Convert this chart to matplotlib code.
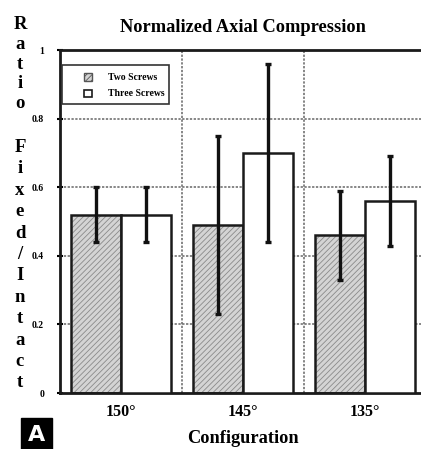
import numpy as np
import matplotlib
matplotlib.use('Agg')
import matplotlib.pyplot as plt
from matplotlib.patches import Rectangle

# data
configs = ['150°', '145°', '135°']
two_screws = [0.52, 0.49, 0.46]
two_err = [0.08, 0.26, 0.13]
three_screws = [0.52, 0.70, 0.56]
three_err = [0.08, 0.26, 0.13]
series_names = ['Two Screws', 'Three Screws']
y_ticks = [0, 0.2, 0.4, 0.6, 0.8, 1]
y_tick_labels = ['0', '0.2', '0.4', '0.6', '0.8', '1']
ylabel_words = ['Ratio', 'Fixed/Intact']

serif = ['Liberation Serif', 'DejaVu Serif']
plt.rcParams['font.family'] = serif
plt.rcParams['font.weight'] = 'bold'
plt.rcParams['hatch.linewidth'] = 0.6

HATCH_FACE = '#d4d4d4'
HATCH_LINE = '#8a8a8a'
EDGE = '#1a1a1a'
W_PX, H_PX = 421, 449

fig = plt.figure(figsize=(W_PX / 100, H_PX / 100), dpi=100)
ax = fig.add_axes([0.1425, 0.1247, 0.8694, 0.7639])

x = np.arange(1, len(configs) + 1)
w = 0.41

# gridlines behind the bars
for yv in y_ticks[1:-1]:
    ax.axhline(yv, color='#666666', lw=1.1, ls=(0, (1.5, 1)), zorder=0)
for xv in x[:-1] + 0.5:
    ax.axvline(xv, color='#666666', lw=1.1, ls=(0, (1.5, 1)), zorder=0)

# hatched bars: hatch in grey, then black outline on top
ax.bar(x - w / 2, two_screws, w, color=HATCH_FACE, edgecolor=HATCH_LINE,
       hatch='//////', lw=0, zorder=2)
ax.bar(x - w / 2, two_screws, w, fill=False, edgecolor=EDGE, lw=1.8, zorder=3)
ax.bar(x + w / 2, three_screws, w, color='white', edgecolor=EDGE, lw=1.8, zorder=3)

ax.errorbar(x - w / 2, two_screws, yerr=two_err, fmt='none', ecolor='#111111',
            elinewidth=2.4, capsize=2.5, capthick=2.4, zorder=4)
ax.errorbar(x + w / 2, three_screws, yerr=three_err, fmt='none', ecolor='#111111',
            elinewidth=2.4, capsize=2.5, capthick=2.4, zorder=4)

ax.set_xlim(0.5, 3.5)
ax.set_ylim(0, 1)
ax.set_yticks(y_ticks)
ax.set_yticklabels(y_tick_labels, fontsize=7, fontweight='bold')
ax.set_xticks(x)
ax.set_xticklabels(configs, fontsize=11.5, fontweight='bold')
ax.tick_params(axis='y', direction='inout', length=5, width=1.5, pad=9)
ax.tick_params(axis='x', length=0, pad=8)

for side in ['left', 'top', 'bottom']:
    ax.spines[side].set_linewidth(2)
    ax.spines[side].set_color(EDGE)
ax.spines['right'].set_visible(False)

ax.set_title('Normalized Axial Compression', fontsize=13.2, fontweight='bold', pad=13)
ax.set_xlabel('Configuration', fontsize=13.2, fontweight='bold', labelpad=7)

# stacked y label, one letter per line (baseline start and step in pixels)
for word, start, step in zip(ylabel_words, [29, 152], [19.8, 21.4]):
    for i, ch in enumerate(word):
        fig.text(20 / W_PX, 1 - (start + i * step) / H_PX, ch, ha='center',
                 va='baseline', fontsize=13.5, fontweight='bold')

# legend box drawn in axes coordinates
ax.add_patch(Rectangle((0.005, 0.843), 0.293, 0.113, transform=ax.transAxes,
                       facecolor='white', edgecolor='#333333', lw=1.2, zorder=5))
sq = 0.02
for i, name in enumerate(series_names):
    yc = 0.921 - i * 0.047
    if i == 0:
        ax.add_patch(Rectangle((0.0765 - sq / 2, yc - sq * 1.07 / 2), sq, sq * 1.07,
                               transform=ax.transAxes, facecolor=HATCH_FACE,
                               edgecolor='#555555', hatch='//////', lw=1, zorder=6))
    else:
        ax.add_patch(Rectangle((0.0765 - sq / 2, yc - sq * 1.07 / 2), sq, sq * 1.07,
                               transform=ax.transAxes, facecolor='white',
                               edgecolor=EDGE, lw=1.2, zorder=6))
    ax.text(0.131, yc, name, transform=ax.transAxes, ha='left', va='center',
            fontsize=7, fontweight='bold', zorder=6)

# panel letter
fig.text(0.087, 0.032, 'A', ha='center', va='center', fontsize=16,
         fontweight='bold', color='white', family='DejaVu Sans',
         bbox=dict(boxstyle='square,pad=0.3', facecolor='black', edgecolor='black'))

fig.savefig('out.png', dpi=100)
